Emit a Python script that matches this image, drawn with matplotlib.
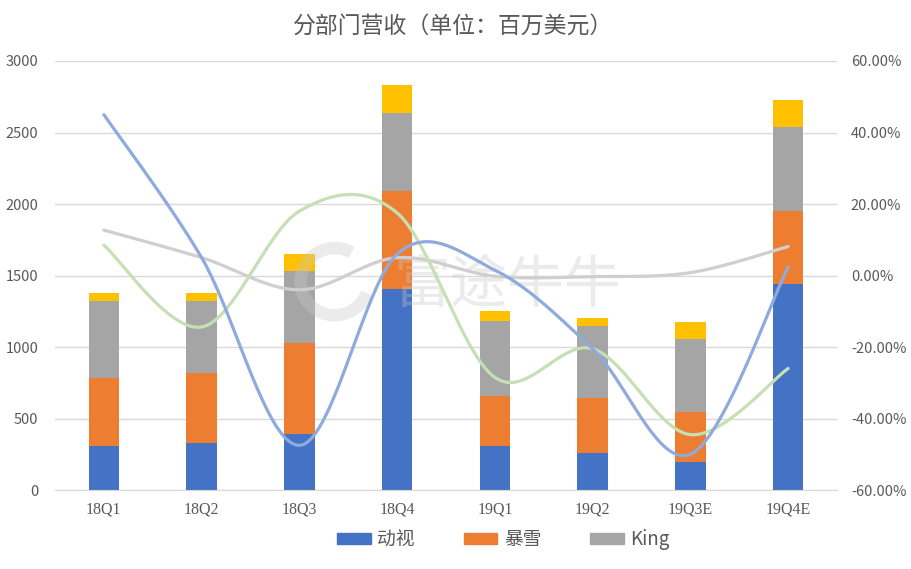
import numpy as np
import matplotlib
matplotlib.use("Agg")
import matplotlib.pyplot as plt
from matplotlib.ticker import FuncFormatter
from matplotlib.patches import Patch, Arc

plt.rcParams['font.family'] = ['Noto Sans CJK SC', 'DejaVu Sans']

categories = ["18Q1", "18Q2", "18Q3", "18Q4", "19Q1", "19Q2", "19Q3E", "19Q4E"]
activision = [310, 329, 394, 1406, 310, 259, 198, 1443]
blizzard = [475, 489, 634, 685, 350, 387, 350, 508]
king = [537, 504, 506, 545, 522, 503, 508, 587]
other = [56, 56, 116, 196, 70, 56, 121, 189]

# growth rates (%) on the secondary axis
growth_activision = [45.0, 5.0, -47.5, 6.0, 1.5, -20.5, -50.0, 2.4]
growth_king = [12.7, 5.0, -4.0, 5.0, -0.2, -0.3, 0.8, 8.1]
growth_blizzard = [8.5, -14.4, 18.0, 17.5, -28.5, -20.5, -44.5, -26.0]

C_BLUE = "#4472C4"
C_ORANGE = "#ED7D31"
C_GRAY = "#A5A5A5"
C_YELLOW = "#FFC000"
TXT = "#595959"
GRID = "#D9D9D9"


def smooth(xs, ys, n=40):
    xs = np.asarray(xs, float)
    ys = np.asarray(ys, float)
    P = np.column_stack([xs, ys])
    out = []
    for i in range(len(P) - 1):
        p0 = P[i - 1] if i > 0 else P[i]
        p1 = P[i]
        p2 = P[i + 1]
        p3 = P[i + 2] if i + 2 < len(P) else P[i + 1]
        c1 = p1 + (p2 - p0) / 6.0
        c2 = p2 - (p3 - p1) / 6.0
        t = np.linspace(0, 1, n)[:, None]
        seg = ((1 - t) ** 3) * p1 + 3 * ((1 - t) ** 2) * t * c1 + 3 * (1 - t) * t ** 2 * c2 + t ** 3 * p2
        out.append(seg if i == 0 else seg[1:])
    s = np.vstack(out)
    return s[:, 0], s[:, 1]


fig = plt.figure(figsize=(9.12, 5.69), dpi=100)
ax = fig.add_axes([0.0603, 0.1388, 0.8575, 0.754])
x = np.arange(len(categories))
w = 0.31

b1 = np.array(activision)
b2 = np.array(blizzard)
b3 = np.array(king)
b4 = np.array(other)
ax.bar(x, b1, w, color=C_BLUE, zorder=2)
ax.bar(x, b2, w, bottom=b1, color=C_ORANGE, zorder=2)
ax.bar(x, b3, w, bottom=b1 + b2, color=C_GRAY, zorder=2)
ax.bar(x, b4, w, bottom=b1 + b2 + b3, color=C_YELLOW, zorder=2)

ax.set_xlim(-0.5, len(categories) - 0.5)
ax.set_ylim(0, 3000)
ax.set_yticks(np.arange(0, 3001, 500))
ax.set_xticks(x)
ax.set_xticklabels(categories, fontfamily='Liberation Serif', fontsize=11.5)
ax.grid(axis='y', color=GRID, linewidth=1, zorder=0)
ax.set_axisbelow(True)
for s in ['top', 'right', 'left']:
    ax.spines[s].set_visible(False)
ax.spines['bottom'].set_color(GRID)
ax.tick_params(axis='both', length=0, colors=TXT)
ax.tick_params(axis='y', pad=12, labelsize=10.5)
ax.tick_params(axis='x', pad=8)

# faint watermark
ax.text(0.556, 0.497, "富途牛牛", transform=fig.transFigure, ha='center', va='center',
        fontsize=41, color="#C8C8C8", alpha=0.35, zorder=5)
ax.add_patch(Arc((0.367, 0.505), 0.075, 0.118, theta1=70, theta2=330, transform=fig.transFigure,
                 color="#C8C8C8", alpha=0.35, linewidth=9, zorder=5))

ax2 = ax.twinx()
ax2.set_ylim(-60, 60)
ax2.set_yticks(np.arange(-60, 61, 20))
ax2.yaxis.set_major_formatter(FuncFormatter(lambda v, p: f"{v:.2f}%".replace("\u2212", "-")))
for s in ['top', 'right', 'left', 'bottom']:
    ax2.spines[s].set_visible(False)
ax2.tick_params(axis='y', length=0, colors=TXT, labelsize=10.5, pad=10)

for ys, col in [(growth_king, "#D0CECE"), (growth_blizzard, "#C5E0B4"), (growth_activision, "#8FAADC")]:
    sx, sy = smooth(x, ys)
    ax2.plot(sx, sy, color=col, linewidth=2.3, solid_capstyle='round', zorder=3)

fig.text(0.497, 0.952, "分部门营收（单位：百万美元）", ha='center', va='center', fontsize=16.5, color=TXT)

handles = [Patch(color=C_BLUE), Patch(color=C_ORANGE), Patch(color=C_GRAY)]
fig.legend(handles, ["动视", "暴雪", "King"], loc='center', bbox_to_anchor=(0.552, 0.051), ncol=3,
           frameon=False, fontsize=13.5, labelcolor=TXT, handlelength=1.8, handleheight=0.55,
           columnspacing=2.6, handletextpad=0.35)

fig.savefig("out.png", dpi=100)
